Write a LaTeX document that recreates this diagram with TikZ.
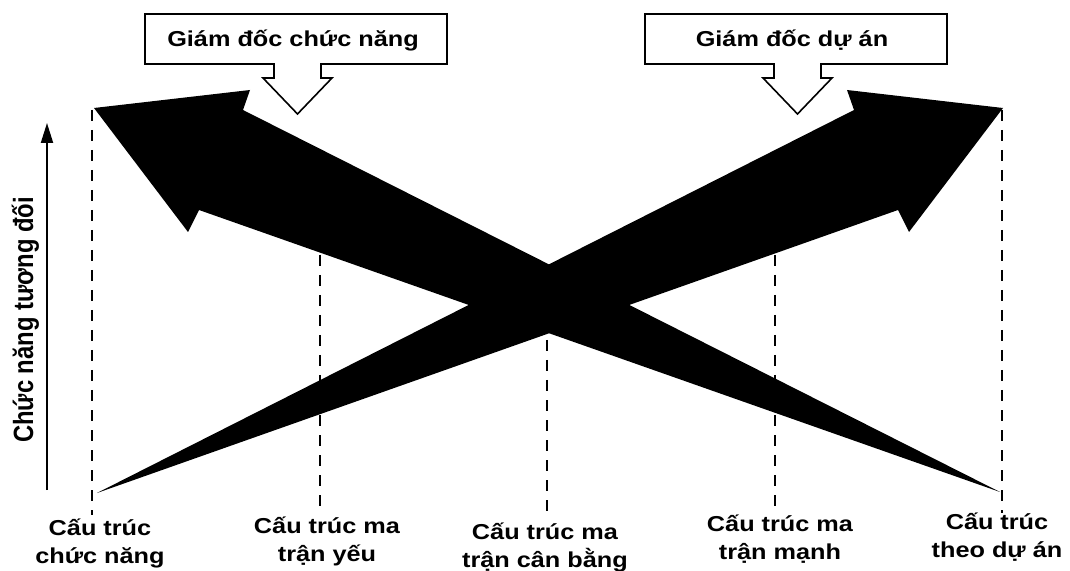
\documentclass[tikz,border=0pt]{standalone}
\usepackage{fontspec}
\usepackage{graphicx}
\setmainfont{Liberation Sans}[FakeStretch=1.17]
\newfontfamily\axisfont{Liberation Sans}
\usetikzlibrary{arrows.meta}

\begin{document}
\begin{tikzpicture}[
    x=0.5pt, y=-0.5pt,
    every node/.append style = {inner sep=0pt},
    guide/.style = {dash pattern=on 5.5pt off 4.5pt, line width=1pt},
    callout/.style = {draw, fill=white, line width=0.8pt, line join=miter},
    lbl/.style = {font=\bfseries\fontsize{10.8}{14}\selectfont},
    levellbl/.style = {lbl, align=center, anchor=base},
  ]
  %%+++++++++++++++++++++++++
  % Variables
  % Picture size
  \pgfmathsetmacro{\Wpic}{1070}
  \pgfmathsetmacro{\Hpic}{571}
  % Shift between the two callouts
  \pgfmathsetmacro{\dcall}{500}
  % Line step of the two-line labels (base anchor = last line)
  \pgfmathsetmacro{\dline}{28}
  %%+++++++++++++++++++++++++
  \useasboundingbox (0,0) rectangle (\Wpic,\Hpic);
  \clip (0,0) rectangle (\Wpic,\Hpic);
  % Dashed guides of the five structures
  \foreach \xcol/\ytop/\ybot in {92/110/515, 319.5/215/506, 547/300/517, 774.5/215/506, 1002/110/513}
    \draw[guide] (\xcol,\ytop) -- (\xcol,\ybot);
  % Big arrows
  % towards the functional side (head on the left)
  \fill (1000,492) -- (243,110) -- (250,90) -- (94,108) -- (188,232) -- (199,210) -- cycle;
  % towards the project side (head on the right)
  \fill (97,493) -- (854,110) -- (847,90) -- (1003,108) -- (909,232) -- (898,210) -- cycle;
  % Callouts
  \draw[callout] (145,14) -- (447,14) -- (447,64) -- (321,64) -- (321,78) -- (332,78)
    -- (297.5,114) -- (263,78) -- (274,78) -- (274,64) -- (145,64) -- cycle;
  \node[lbl, anchor=base] (funcmgr) at (293,46.5) {Giám đốc chức năng};
  \begin{scope}[shift={(\dcall,0)}]
    \draw[callout] (145,14) -- (447,14) -- (447,64) -- (321,64) -- (321,78) -- (332,78)
      -- (297.5,114) -- (263,78) -- (274,78) -- (274,64) -- (145,64) -- cycle;
    \node[lbl, anchor=base] (projmgr) at (292,46.5) {Giám đốc dự án};
  \end{scope}
  % Axis
  \coordinate (axisbot) at (47,490);
  \coordinate (axistop) at (47,123);
  \draw[line width=1pt, -{Triangle[length=10pt, width=6pt]}] (axisbot) -- (axistop);
  \node[rotate=90, anchor=base, font=\axisfont\bfseries\fontsize{11.9}{14}\selectfont]
    (axislbl) at (33,320) {\scalebox{1}[1.17]{Chức năng tương đối}};
  % Structures
  \node[levellbl] (sfunc) at (100,535+\dline) {Cấu trúc\\chức năng};
  \node[levellbl] (sweak) at (327,533+\dline) {Cấu trúc ma\\trận yếu};
  \node[levellbl] (sbal) at (545,539+\dline) {Cấu trúc ma\\trận cân bằng};
  \node[levellbl] (sstrong) at (780,531+\dline) {Cấu trúc ma\\trận mạnh};
  \node[levellbl] (sproj) at (997,529+\dline) {Cấu trúc\\theo dự án};
\end{tikzpicture}
\end{document}
